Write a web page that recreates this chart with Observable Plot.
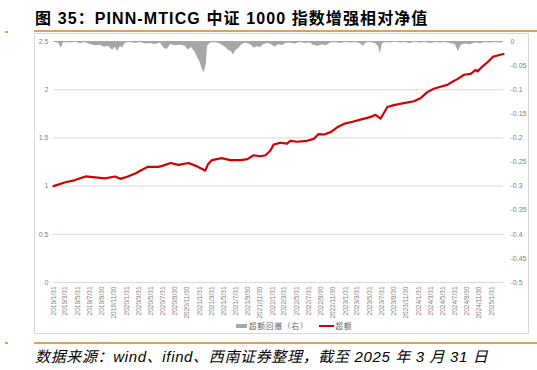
<!DOCTYPE html>
<html>
<head>
<meta charset="utf-8">
<script src="https://cdn.jsdelivr.net/npm/d3@7"></script>
<script src="https://cdn.jsdelivr.net/npm/@observablehq/plot@0.6"></script>
<style>
  html, body { margin: 0; padding: 0; background: #fff; }
  body { width: 537px; height: 370px; position: relative; overflow: hidden; font-family: "Liberation Sans", "Noto Sans CJK SC", sans-serif; }
  .abs { position: absolute; }
  #title { left: 35px; top: 5px; font-size: 16px; font-weight: bold; color: #000; white-space: nowrap; letter-spacing: 1.1px; font-family: "Liberation Sans", "Noto Sans CJK SC", sans-serif; }
  .orange { background: #d9a35d; }
  #box { left: 34px; top: 33px; width: 495px; height: 301px; border: 1px solid #d9d9d9; box-sizing: border-box; }
  #chart { left: 34px; top: 33px; }
  #legend { left: 236px; top: 320px; font-size: 7.5px; letter-spacing: 1px; color: #666; white-space: nowrap; font-family: "Noto Sans CJK SC", sans-serif; display: flex; align-items: center; }
  .sw { display: inline-block; margin-right: 2px; }
  #caption { left: 35px; top: 345px; font-size: 15px; font-style: italic; letter-spacing: 0.65px; color: #000; white-space: nowrap; font-family: "Liberation Sans", "Noto Sans CJK SC", sans-serif; }
</style>
</head>
<body>
<div id="title" class="abs"></div>
<div class="abs orange" style="left:34px;top:30px;width:503px;height:2px;"></div>
<div class="abs orange" style="left:5px;top:31px;width:3px;height:2px;"></div>
<div id="box" class="abs"></div>
<div id="chart" class="abs"></div>
<div id="legend" class="abs"></div>
<div class="abs orange" style="left:34px;top:342px;width:503px;height:2px;"></div>
<div class="abs orange" style="left:5px;top:342px;width:3px;height:2px;"></div>
<div id="caption" class="abs"></div>
<script>
const titleText = "图 35：PINN-MTICG 中证 1000 指数增强相对净值";
const captionText = "数据来源：wind、ifind、西南证券整理，截至 2025 年 3 月 31 日";
const seriesNames = ["超额回撤（右）", "超额"];
const seriesColors = ["#a6a6a6", "#d40000"];

// Excess net value (left axis)
const navDates = ["2019-01-31","2019-03-31","2019-05-15","2019-07-10","2019-08-28","2019-10-15","2019-12-05","2019-12-31","2020-01-25","2020-03-15","2020-04-18","2020-05-18","2020-07-08","2020-07-28","2020-09-08","2020-10-18","2020-12-06","2021-01-12","2021-02-20","2021-02-28","2021-03-15","2021-04-03","2021-05-22","2021-07-03","2021-08-24","2021-09-27","2021-10-28","2021-11-30","2021-12-27","2022-01-20","2022-02-05","2022-03-10","2022-04-13","2022-04-30","2022-06-03","2022-07-22","2022-08-25","2022-09-18","2022-10-15","2022-11-18","2022-12-20","2023-01-22","2023-03-12","2023-04-15","2023-06-03","2023-06-30","2023-07-25","2023-08-10","2023-08-28","2023-09-30","2023-11-18","2024-01-08","2024-02-12","2024-03-15","2024-04-16","2024-05-20","2024-06-23","2024-07-25","2024-08-12","2024-09-15","2024-10-18","2024-11-12","2024-11-21","2024-12-15","2025-01-10","2025-02-05","2025-03-01","2025-03-31"];
const navValues = [1.00,1.04,1.06,1.10,1.09,1.08,1.10,1.075,1.09,1.13,1.17,1.20,1.20,1.21,1.24,1.22,1.24,1.21,1.17,1.16,1.23,1.27,1.29,1.27,1.27,1.28,1.32,1.31,1.32,1.37,1.43,1.45,1.44,1.47,1.46,1.47,1.49,1.54,1.535,1.56,1.61,1.645,1.67,1.69,1.715,1.74,1.70,1.756,1.82,1.84,1.86,1.88,1.915,1.975,2.01,2.03,2.05,2.09,2.11,2.155,2.165,2.205,2.19,2.24,2.285,2.34,2.355,2.37];

// Excess drawdown (right axis)
const ddDates = ["2019-01-31","2019-02-10","2019-02-25","2019-03-12","2019-03-22","2019-04-26","2019-05-21","2019-06-15","2019-07-10","2019-08-04","2019-08-29","2019-09-23","2019-10-13","2019-11-02","2019-11-22","2019-12-07","2019-12-17","2020-01-01","2020-01-11","2020-01-26","2020-02-20","2020-03-16","2020-04-10","2020-05-05","2020-05-30","2020-06-24","2020-07-19","2020-08-08","2020-08-23","2020-09-07","2020-10-02","2020-10-27","2020-11-21","2020-12-06","2020-12-21","2021-01-05","2021-01-20","2021-02-04","2021-02-14","2021-02-24","2021-03-06","2021-03-11","2021-03-26","2021-04-20","2021-05-15","2021-06-09","2021-06-24","2021-07-09","2021-07-19","2021-07-29","2021-08-13","2021-08-28","2021-09-17","2021-10-12","2021-11-01","2021-11-16","2021-12-01","2021-12-16","2022-01-10","2022-01-30","2022-02-14","2022-03-01","2022-03-21","2022-04-05","2022-04-30","2022-05-25","2022-06-19","2022-07-14","2022-08-08","2022-08-23","2022-09-17","2022-10-07","2022-10-27","2022-11-16","2022-12-11","2023-01-05","2023-01-30","2023-02-24","2023-03-21","2023-04-15","2023-04-30","2023-05-15","2023-06-04","2023-06-29","2023-07-14","2023-07-24","2023-08-03","2023-08-18","2023-09-12","2023-10-07","2023-11-01","2023-11-26","2023-12-21","2024-01-15","2024-02-09","2024-03-05","2024-03-30","2024-04-24","2024-05-19","2024-06-13","2024-07-08","2024-08-02","2024-08-17","2024-09-01","2024-09-21","2024-10-16","2024-11-10","2024-12-05","2024-12-30","2025-01-24","2025-02-18","2025-03-15","2025-03-31"];
const ddValues = [0,-0.002,-0.003,-0.014,-0.002,-0.003,-0.001,-0.004,-0.002,-0.006,-0.009,-0.008,-0.012,-0.010,-0.018,-0.012,-0.021,-0.010,-0.014,-0.003,-0.002,-0.004,-0.002,-0.005,-0.004,-0.006,-0.003,-0.015,-0.016,-0.006,-0.009,-0.008,-0.010,-0.018,-0.012,-0.020,-0.032,-0.045,-0.058,-0.064,-0.045,-0.010,-0.003,-0.002,-0.005,-0.012,-0.018,-0.021,-0.028,-0.020,-0.015,-0.008,-0.003,-0.006,-0.014,-0.010,-0.013,-0.006,-0.004,-0.008,-0.012,-0.006,-0.009,-0.004,-0.003,-0.005,-0.002,-0.004,-0.003,-0.008,-0.010,-0.007,-0.009,-0.003,-0.002,-0.004,-0.002,-0.003,-0.002,-0.004,-0.010,-0.003,-0.002,-0.004,-0.010,-0.025,-0.005,-0.002,-0.003,-0.001,-0.003,-0.002,-0.004,-0.001,-0.003,-0.002,-0.004,-0.002,-0.003,-0.002,-0.004,-0.006,-0.021,-0.008,-0.005,-0.007,-0.003,-0.004,-0.002,-0.003,-0.002,-0.003,-0.002];

const xTickLabels = ["2019/1/31","2019/3/31","2019/5/31","2019/7/31","2019/9/30","2019/11/30","2020/1/31","2020/3/31","2020/5/31","2020/7/31","2020/9/30","2020/11/30","2021/1/31","2021/3/31","2021/5/31","2021/7/31","2021/9/30","2021/11/30","2022/1/31","2022/3/31","2022/5/31","2022/7/31","2022/9/30","2022/11/30","2023/1/31","2023/3/31","2023/5/31","2023/7/31","2023/9/30","2023/11/30","2024/1/31","2024/3/31","2024/5/31","2024/7/31","2024/9/30","2024/11/30","2025/1/31"];
const leftTickValues = [0, 0.5, 1, 1.5, 2, 2.5];
const leftTickLabels = ["0", "0.5", "1", "1.5", "2", "2.5"];
const rightTickValues = [0, -0.05, -0.1, -0.15, -0.2, -0.25, -0.3, -0.35, -0.4, -0.45, -0.5];
const rightTickLabels = ["0", "-0.05", "-0.1", "-0.15", "-0.2", "-0.25", "-0.3", "-0.35", "-0.4", "-0.45", "-0.5"];

document.getElementById("title").textContent = titleText;
document.getElementById("caption").textContent = captionText;

const parseDay = d3.utcParse("%Y-%m-%d");
const parseTick = d3.utcParse("%Y/%m/%d");
// map right axis (0 .. -0.5) onto left scale (2.5 .. 0)
const toLeft = v => 2.5 + v * 5;

const nav = navDates.map((d, i) => ({date: parseDay(d), value: navValues[i]}));
const dd = ddDates.map((d, i) => ({date: parseDay(d), value: ddValues[i]}));

const xTicks = xTickLabels.map(parseTick);
const xLabelMap = new Map(xTicks.map((d, i) => [+d, xTickLabels[i]]));
const leftLabelMap = new Map(leftTickValues.map((v, i) => [v.toFixed(3), leftTickLabels[i]]));
const rightPos = rightTickValues.map(toLeft);
const rightLabelMap = new Map(rightPos.map((v, i) => [v.toFixed(3), rightTickLabels[i]]));

const chart = Plot.plot({
  width: 495,
  height: 300,
  marginLeft: 19,
  marginRight: 26,
  marginTop: 8,
  marginBottom: 51,
  style: {fontFamily: "Liberation Sans, sans-serif", fontSize: "7px", color: "#7f7f7f", background: "transparent"},
  x: {type: "utc", domain: [parseDay("2019-01-31"), parseDay("2025-03-31")]},
  y: {domain: [0, 2.5]},
  marks: [
    Plot.ruleY(leftTickValues, {stroke: "#d9d9d9", strokeWidth: 1}),
    Plot.areaY(dd, {x: "date", y1: () => 2.5, y2: d => toLeft(d.value), fill: seriesColors[0]}),
    Plot.lineY(nav, {x: "date", y: "value", stroke: seriesColors[1], strokeWidth: 2.2}),
    Plot.axisY({anchor: "left", ticks: leftTickValues, tickSize: 0, tickPadding: 5, tickFormat: v => leftLabelMap.get(v.toFixed(3)), label: null, fill: "#7f7f7f"}),
    Plot.axisY({anchor: "right", ticks: rightPos, tickSize: 0, tickPadding: 7, tickFormat: v => rightLabelMap.get(v.toFixed(3)), label: null, fill: "#7f7f7f"}),
    Plot.axisX({ticks: xTicks, tickFormat: d => xLabelMap.get(+d), tickRotate: -90, tickSize: 0, tickPadding: 4, label: null, fontSize: 6.5, fill: "#7f7f7f"})
  ]
});
document.getElementById("chart").appendChild(chart);

const legend = document.getElementById("legend");
legend.innerHTML =
  `<span class="sw" style="width:11px;height:4px;background:${seriesColors[0]}"></span><span>${seriesNames[0]}</span>` +
  `<span class="sw" style="width:15px;height:2px;background:${seriesColors[1]};margin-left:10px"></span><span>${seriesNames[1]}</span>`;
</script>
</body>
</html>
